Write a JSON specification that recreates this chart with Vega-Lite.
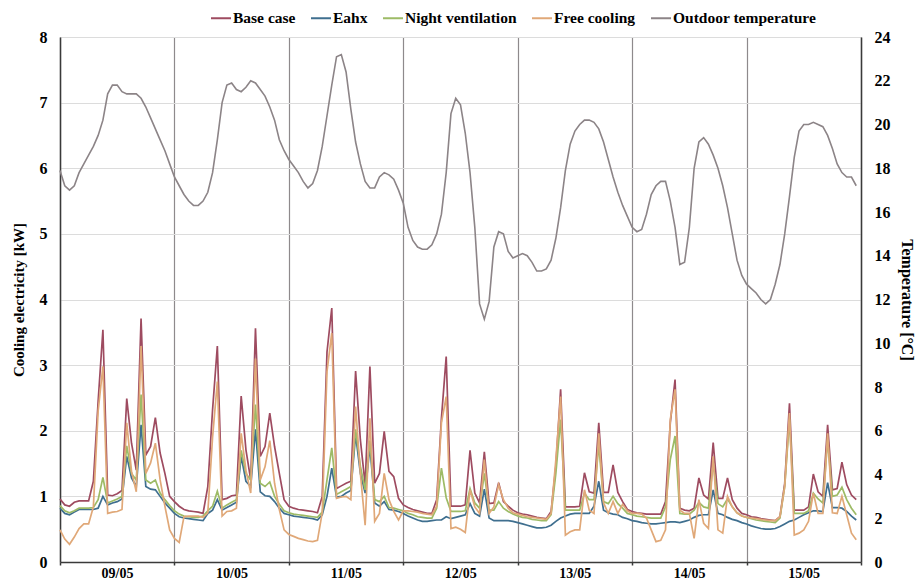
{
  "$schema": "https://vega.github.io/schema/vega-lite/v6.json",
  "width": 801,
  "height": 525,
  "autosize": {"type": "none"},
  "padding": {"left": 60, "top": 37, "right": 56, "bottom": 21},
  "data": {"values": [
    {"h":0,"b":0.96,"e":0.82,"n":0.86,"f":0.49,"t":17.9},
    {"h":1,"b":0.87,"e":0.74,"n":0.78,"f":0.35,"t":17.2},
    {"h":2,"b":0.85,"e":0.72,"n":0.75,"f":0.27,"t":17.0},
    {"h":3,"b":0.91,"e":0.76,"n":0.78,"f":0.38,"t":17.2},
    {"h":4,"b":0.93,"e":0.80,"n":0.82,"f":0.51,"t":17.8},
    {"h":5,"b":0.93,"e":0.80,"n":0.82,"f":0.58,"t":18.2},
    {"h":6,"b":0.93,"e":0.80,"n":0.82,"f":0.58,"t":18.6},
    {"h":7,"b":1.23,"e":0.80,"n":0.83,"f":0.84,"t":19.0},
    {"h":8,"b":2.45,"e":0.82,"n":0.95,"f":2.30,"t":19.5},
    {"h":9,"b":3.54,"e":1.00,"n":1.29,"f":2.98,"t":20.2},
    {"h":10,"b":1.02,"e":0.87,"n":0.90,"f":0.74,"t":21.4},
    {"h":11,"b":1.01,"e":0.90,"n":0.93,"f":0.76,"t":21.8},
    {"h":12,"b":1.04,"e":0.92,"n":0.96,"f":0.77,"t":21.8},
    {"h":13,"b":1.09,"e":0.96,"n":1.00,"f":0.80,"t":21.5},
    {"h":14,"b":2.49,"e":1.61,"n":1.77,"f":2.12,"t":21.4},
    {"h":15,"b":1.81,"e":1.28,"n":1.35,"f":1.38,"t":21.4},
    {"h":16,"b":1.40,"e":1.15,"n":1.25,"f":1.07,"t":21.4},
    {"h":17,"b":3.71,"e":2.09,"n":2.55,"f":3.29,"t":21.2},
    {"h":18,"b":1.63,"e":1.15,"n":1.25,"f":1.35,"t":20.8},
    {"h":19,"b":1.76,"e":1.11,"n":1.20,"f":1.51,"t":20.3},
    {"h":20,"b":2.20,"e":1.10,"n":1.25,"f":1.81,"t":19.8},
    {"h":21,"b":1.66,"e":1.00,"n":1.05,"f":1.25,"t":19.3},
    {"h":22,"b":1.35,"e":0.90,"n":0.95,"f":0.85,"t":18.8},
    {"h":23,"b":1.00,"e":0.82,"n":0.86,"f":0.49,"t":18.2},
    {"h":24,"b":0.92,"e":0.74,"n":0.78,"f":0.36,"t":17.6},
    {"h":25,"b":0.85,"e":0.69,"n":0.73,"f":0.30,"t":17.2},
    {"h":26,"b":0.80,"e":0.67,"n":0.70,"f":0.69,"t":16.8},
    {"h":27,"b":0.78,"e":0.66,"n":0.69,"f":0.70,"t":16.5},
    {"h":28,"b":0.77,"e":0.65,"n":0.68,"f":0.70,"t":16.3},
    {"h":29,"b":0.76,"e":0.64,"n":0.68,"f":0.70,"t":16.3},
    {"h":30,"b":0.74,"e":0.63,"n":0.70,"f":0.68,"t":16.5},
    {"h":31,"b":1.15,"e":0.74,"n":0.78,"f":0.75,"t":16.9},
    {"h":32,"b":2.32,"e":0.79,"n":0.85,"f":1.90,"t":17.8},
    {"h":33,"b":3.29,"e":0.95,"n":1.08,"f":2.75,"t":19.3},
    {"h":34,"b":0.95,"e":0.79,"n":0.82,"f":0.70,"t":21.0},
    {"h":35,"b":0.97,"e":0.83,"n":0.87,"f":0.77,"t":21.8},
    {"h":36,"b":1.01,"e":0.87,"n":0.91,"f":0.78,"t":21.9},
    {"h":37,"b":1.02,"e":0.91,"n":0.95,"f":0.82,"t":21.6},
    {"h":38,"b":2.53,"e":1.61,"n":1.70,"f":1.96,"t":21.5},
    {"h":39,"b":1.71,"e":1.23,"n":1.35,"f":1.40,"t":21.7},
    {"h":40,"b":1.25,"e":1.15,"n":1.25,"f":1.05,"t":22.0},
    {"h":41,"b":3.56,"e":2.02,"n":2.40,"f":3.10,"t":21.9},
    {"h":42,"b":1.61,"e":1.07,"n":1.20,"f":1.25,"t":21.6},
    {"h":43,"b":1.76,"e":1.01,"n":1.15,"f":1.45,"t":21.3},
    {"h":44,"b":2.27,"e":1.00,"n":1.22,"f":1.85,"t":20.8},
    {"h":45,"b":1.76,"e":0.92,"n":1.00,"f":1.20,"t":20.2},
    {"h":46,"b":1.35,"e":0.82,"n":0.88,"f":0.80,"t":19.3},
    {"h":47,"b":0.95,"e":0.74,"n":0.78,"f":0.49,"t":18.8},
    {"h":48,"b":0.85,"e":0.72,"n":0.75,"f":0.42,"t":18.4},
    {"h":49,"b":0.82,"e":0.70,"n":0.73,"f":0.39,"t":18.1},
    {"h":50,"b":0.80,"e":0.69,"n":0.72,"f":0.36,"t":17.8},
    {"h":51,"b":0.79,"e":0.68,"n":0.71,"f":0.34,"t":17.4},
    {"h":52,"b":0.78,"e":0.67,"n":0.70,"f":0.32,"t":17.1},
    {"h":53,"b":0.77,"e":0.66,"n":0.69,"f":0.31,"t":17.3},
    {"h":54,"b":0.75,"e":0.64,"n":0.68,"f":0.33,"t":17.9},
    {"h":55,"b":1.00,"e":0.72,"n":0.76,"f":0.75,"t":19.0},
    {"h":56,"b":3.20,"e":1.00,"n":1.25,"f":2.90,"t":20.4},
    {"h":57,"b":3.87,"e":1.43,"n":1.74,"f":3.49,"t":21.8},
    {"h":58,"b":1.12,"e":0.99,"n":1.03,"f":0.97,"t":23.1},
    {"h":59,"b":1.16,"e":1.00,"n":1.07,"f":0.99,"t":23.2},
    {"h":60,"b":1.20,"e":1.05,"n":1.11,"f":1.00,"t":22.4},
    {"h":61,"b":1.23,"e":1.09,"n":1.15,"f":0.95,"t":20.7},
    {"h":62,"b":2.91,"e":1.94,"n":2.02,"f":2.37,"t":19.2},
    {"h":63,"b":1.86,"e":1.35,"n":1.46,"f":1.35,"t":18.2},
    {"h":64,"b":1.18,"e":1.05,"n":1.10,"f":0.56,"t":17.4},
    {"h":65,"b":2.98,"e":1.76,"n":1.85,"f":2.19,"t":17.1},
    {"h":66,"b":1.20,"e":0.90,"n":0.95,"f":0.62,"t":17.1},
    {"h":67,"b":1.35,"e":0.85,"n":0.92,"f":0.74,"t":17.6},
    {"h":68,"b":1.99,"e":0.92,"n":1.00,"f":1.35,"t":17.8},
    {"h":69,"b":1.38,"e":0.80,"n":0.83,"f":0.95,"t":17.7},
    {"h":70,"b":1.30,"e":0.79,"n":0.82,"f":0.77,"t":17.5},
    {"h":71,"b":0.97,"e":0.77,"n":0.80,"f":0.64,"t":17.0},
    {"h":72,"b":0.87,"e":0.74,"n":0.78,"f":0.78,"t":16.4},
    {"h":73,"b":0.83,"e":0.70,"n":0.74,"f":0.78,"t":15.3},
    {"h":74,"b":0.80,"e":0.67,"n":0.72,"f":0.77,"t":14.7},
    {"h":75,"b":0.78,"e":0.64,"n":0.69,"f":0.76,"t":14.4},
    {"h":76,"b":0.76,"e":0.62,"n":0.68,"f":0.74,"t":14.3},
    {"h":77,"b":0.74,"e":0.62,"n":0.67,"f":0.73,"t":14.3},
    {"h":78,"b":0.74,"e":0.63,"n":0.67,"f":0.72,"t":14.5},
    {"h":79,"b":0.95,"e":0.64,"n":0.82,"f":0.85,"t":15.0},
    {"h":80,"b":2.19,"e":0.64,"n":1.43,"f":2.12,"t":15.9},
    {"h":81,"b":3.13,"e":0.69,"n":0.98,"f":2.52,"t":17.8},
    {"h":82,"b":0.85,"e":0.66,"n":0.77,"f":0.51,"t":20.5},
    {"h":83,"b":0.85,"e":0.68,"n":0.77,"f":0.53,"t":21.2},
    {"h":84,"b":0.85,"e":0.70,"n":0.77,"f":0.50,"t":20.9},
    {"h":85,"b":0.87,"e":0.72,"n":0.78,"f":0.45,"t":19.6},
    {"h":86,"b":1.70,"e":0.89,"n":1.12,"f":1.10,"t":17.8},
    {"h":87,"b":1.05,"e":0.74,"n":0.90,"f":0.84,"t":15.3},
    {"h":88,"b":0.90,"e":0.70,"n":0.82,"f":0.74,"t":11.8},
    {"h":89,"b":1.68,"e":1.11,"n":1.35,"f":1.56,"t":11.1},
    {"h":90,"b":0.89,"e":0.67,"n":0.79,"f":0.74,"t":11.9},
    {"h":91,"b":0.90,"e":0.63,"n":0.79,"f":0.84,"t":14.4},
    {"h":92,"b":1.21,"e":0.63,"n":0.92,"f":1.18,"t":15.1},
    {"h":93,"b":0.92,"e":0.63,"n":0.82,"f":0.95,"t":15.0},
    {"h":94,"b":0.85,"e":0.63,"n":0.77,"f":0.82,"t":14.2},
    {"h":95,"b":0.79,"e":0.62,"n":0.73,"f":0.75,"t":13.9},
    {"h":96,"b":0.75,"e":0.60,"n":0.70,"f":0.73,"t":14.0},
    {"h":97,"b":0.73,"e":0.58,"n":0.68,"f":0.71,"t":14.1},
    {"h":98,"b":0.72,"e":0.56,"n":0.67,"f":0.69,"t":14.0},
    {"h":99,"b":0.70,"e":0.54,"n":0.65,"f":0.68,"t":13.7},
    {"h":100,"b":0.68,"e":0.52,"n":0.64,"f":0.67,"t":13.3},
    {"h":101,"b":0.67,"e":0.52,"n":0.63,"f":0.66,"t":13.3},
    {"h":102,"b":0.66,"e":0.53,"n":0.63,"f":0.65,"t":13.4},
    {"h":103,"b":0.77,"e":0.56,"n":0.72,"f":0.74,"t":13.8},
    {"h":104,"b":1.46,"e":0.62,"n":1.35,"f":1.56,"t":14.8},
    {"h":105,"b":2.63,"e":0.67,"n":2.17,"f":2.52,"t":16.2},
    {"h":106,"b":0.84,"e":0.70,"n":0.79,"f":0.41,"t":17.9},
    {"h":107,"b":0.84,"e":0.73,"n":0.79,"f":0.46,"t":19.1},
    {"h":108,"b":0.84,"e":0.74,"n":0.79,"f":0.49,"t":19.7},
    {"h":109,"b":0.85,"e":0.74,"n":0.79,"f":0.49,"t":20.0},
    {"h":110,"b":1.36,"e":0.74,"n":1.05,"f":1.10,"t":20.2},
    {"h":111,"b":1.07,"e":0.74,"n":0.95,"f":0.79,"t":20.2},
    {"h":112,"b":1.05,"e":0.85,"n":0.95,"f":0.74,"t":20.1},
    {"h":113,"b":2.12,"e":1.23,"n":1.79,"f":1.96,"t":19.8},
    {"h":114,"b":1.06,"e":0.79,"n":0.92,"f":0.90,"t":19.2},
    {"h":115,"b":1.06,"e":0.75,"n":0.89,"f":0.74,"t":18.4},
    {"h":116,"b":1.48,"e":0.73,"n":1.00,"f":0.92,"t":17.6},
    {"h":117,"b":1.06,"e":0.72,"n":0.89,"f":0.74,"t":16.9},
    {"h":118,"b":0.92,"e":0.68,"n":0.82,"f":0.88,"t":16.3},
    {"h":119,"b":0.80,"e":0.66,"n":0.74,"f":0.78,"t":15.8},
    {"h":120,"b":0.77,"e":0.63,"n":0.72,"f":0.74,"t":15.3},
    {"h":121,"b":0.75,"e":0.62,"n":0.70,"f":0.74,"t":15.1},
    {"h":122,"b":0.74,"e":0.60,"n":0.69,"f":0.73,"t":15.2},
    {"h":123,"b":0.73,"e":0.59,"n":0.68,"f":0.67,"t":15.9},
    {"h":124,"b":0.73,"e":0.58,"n":0.67,"f":0.49,"t":16.8},
    {"h":125,"b":0.73,"e":0.58,"n":0.67,"f":0.31,"t":17.2},
    {"h":126,"b":0.73,"e":0.59,"n":0.67,"f":0.33,"t":17.4},
    {"h":127,"b":0.92,"e":0.60,"n":0.84,"f":0.49,"t":17.4},
    {"h":128,"b":2.12,"e":0.61,"n":1.56,"f":2.17,"t":16.5},
    {"h":129,"b":2.78,"e":0.61,"n":1.92,"f":2.63,"t":15.3},
    {"h":130,"b":0.82,"e":0.60,"n":0.74,"f":0.79,"t":13.6},
    {"h":131,"b":0.79,"e":0.62,"n":0.73,"f":0.74,"t":13.7},
    {"h":132,"b":0.78,"e":0.64,"n":0.73,"f":0.74,"t":15.3},
    {"h":133,"b":0.82,"e":0.68,"n":0.79,"f":0.36,"t":18.0},
    {"h":134,"b":1.28,"e":0.71,"n":0.91,"f":0.95,"t":19.2},
    {"h":135,"b":1.02,"e":0.72,"n":0.84,"f":0.59,"t":19.4},
    {"h":136,"b":0.96,"e":0.72,"n":0.82,"f":0.51,"t":19.1},
    {"h":137,"b":1.82,"e":1.10,"n":1.51,"f":1.61,"t":18.6},
    {"h":138,"b":0.97,"e":0.74,"n":0.89,"f":0.49,"t":18.0},
    {"h":139,"b":0.97,"e":0.72,"n":0.84,"f":0.44,"t":17.2},
    {"h":140,"b":1.28,"e":0.68,"n":0.96,"f":1.00,"t":16.2},
    {"h":141,"b":0.95,"e":0.65,"n":0.84,"f":0.84,"t":15.0},
    {"h":142,"b":0.82,"e":0.63,"n":0.75,"f":0.75,"t":13.8},
    {"h":143,"b":0.74,"e":0.60,"n":0.70,"f":0.70,"t":13.1},
    {"h":144,"b":0.72,"e":0.58,"n":0.68,"f":0.68,"t":12.7},
    {"h":145,"b":0.69,"e":0.55,"n":0.66,"f":0.67,"t":12.5},
    {"h":146,"b":0.68,"e":0.53,"n":0.64,"f":0.66,"t":12.3},
    {"h":147,"b":0.66,"e":0.51,"n":0.63,"f":0.65,"t":12.0},
    {"h":148,"b":0.65,"e":0.50,"n":0.62,"f":0.64,"t":11.8},
    {"h":149,"b":0.64,"e":0.50,"n":0.61,"f":0.63,"t":12.0},
    {"h":150,"b":0.63,"e":0.51,"n":0.60,"f":0.63,"t":12.7},
    {"h":151,"b":0.69,"e":0.54,"n":0.67,"f":0.69,"t":13.6},
    {"h":152,"b":1.20,"e":0.58,"n":1.15,"f":1.15,"t":15.0},
    {"h":153,"b":2.42,"e":0.62,"n":2.17,"f":2.27,"t":16.7},
    {"h":154,"b":0.79,"e":0.64,"n":0.74,"f":0.41,"t":18.5},
    {"h":155,"b":0.79,"e":0.68,"n":0.74,"f":0.44,"t":19.7},
    {"h":156,"b":0.79,"e":0.72,"n":0.74,"f":0.49,"t":20.0},
    {"h":157,"b":0.84,"e":0.75,"n":0.78,"f":0.62,"t":20.0},
    {"h":158,"b":1.34,"e":0.78,"n":1.05,"f":1.05,"t":20.1},
    {"h":159,"b":1.07,"e":0.78,"n":0.96,"f":0.74,"t":20.0},
    {"h":160,"b":1.00,"e":0.77,"n":0.90,"f":0.74,"t":19.9},
    {"h":161,"b":2.09,"e":1.21,"n":1.86,"f":1.96,"t":19.5},
    {"h":162,"b":1.10,"e":0.83,"n":1.00,"f":0.75,"t":18.9},
    {"h":163,"b":1.12,"e":0.83,"n":1.02,"f":0.74,"t":18.2},
    {"h":164,"b":1.52,"e":0.82,"n":1.14,"f":1.00,"t":17.8},
    {"h":165,"b":1.18,"e":0.77,"n":0.95,"f":0.72,"t":17.6},
    {"h":166,"b":1.02,"e":0.70,"n":0.82,"f":0.44,"t":17.6},
    {"h":167,"b":0.95,"e":0.64,"n":0.72,"f":0.34,"t":17.2}
  ]},
  "layer": [
    {
      "transform": [{"fold": ["b", "e", "n", "f"], "as": ["series", "kw"]}],
      "mark": {"type": "line", "strokeWidth": 1.7},
      "encoding": {
        "x": {
          "field": "h", "type": "quantitative",
          "scale": {"domain": [0, 168], "nice": false, "zero": false},
          "axis": {
            "title": null,
            "values": [0, 24, 48, 72, 96, 120, 144, 168],
            "labelExpr": "datum.value == 0 ? '09/05' : datum.value == 24 ? '10/05' : datum.value == 48 ? '11/05' : datum.value == 72 ? '12/05' : datum.value == 96 ? '13/05' : datum.value == 120 ? '14/05' : datum.value == 144 ? '15/05' : ''",
            "labelOffset": 57,
            "labelOverlap": false,
            "labelBound": false,
            "labelFlush": false,
            "labelPadding": 1,
            "labelFontSize": 14,
            "labelFontWeight": "bold",
            "grid": true,
            "gridColor": "#8e8a8c",
            "gridWidth": 1.2,
            "domainColor": "#3a3a3a",
            "domainWidth": 1.5,
            "tickColor": "#3a3a3a",
            "tickSize": 3,
            "tickWidth": 1.5
          }
        },
        "y": {
          "field": "kw", "type": "quantitative",
          "scale": {"domain": [0, 8], "nice": false},
          "axis": {
            "orient": "left",
            "title": "Cooling electricity [kW]",
            "values": [0, 1, 2, 3, 4, 5, 6, 7, 8],
            "grid": true,
            "gridColor": "#dcdcdc",
            "gridWidth": 1.2,
            "ticks": false,
            "domainColor": "#3a3a3a",
            "domainWidth": 1.5,
            "labelPadding": 13,
            "labelFontSize": 16,
            "labelFontWeight": "bold",
            "titleFontSize": 15,
            "titleFontWeight": "bold",
            "titlePadding": 13
          }
        },
        "color": {
          "field": "series", "type": "nominal",
          "scale": {"domain": ["b", "e", "n", "f", "t"], "range": ["#9e4b60", "#3f6f8f", "#9dbb66", "#e0a878", "#8c8487"]},
          "legend": {
            "labelExpr": "datum.label == 'b' ? 'Base case' : datum.label == 'e' ? 'Eahx' : datum.label == 'n' ? 'Night ventilation' : datum.label == 'f' ? 'Free cooling' : 'Outdoor temperature'"
          }
        },
        "detail": {"field": "series"}
      }
    },
    {
      "transform": [{"fold": ["t"], "as": ["series", "temp"]}],
      "mark": {"type": "line", "strokeWidth": 1.6},
      "encoding": {
        "x": {"field": "h", "type": "quantitative"},
        "y": {
          "field": "temp", "type": "quantitative",
          "scale": {"domain": [0, 24], "nice": false},
          "axis": {
            "orient": "right",
            "title": "Temperature [°C]",
            "values": [0, 2, 4, 6, 8, 10, 12, 14, 16, 18, 20, 22, 24],
            "grid": false,
            "ticks": false,
            "domainColor": "#3a3a3a",
            "domainWidth": 1.5,
            "labelPadding": 13,
            "labelFontSize": 16,
            "labelFontWeight": "bold",
            "titleFontSize": 16,
            "titleFontWeight": "bold",
            "titlePadding": 8
          }
        },
        "color": {"field": "series", "type": "nominal"}
      }
    }
  ],
  "resolve": {"scale": {"y": "independent"}},
  "config": {
    "view": {"stroke": null},
    "font": "Liberation Serif",
    "axis": {"labelColor": "#000000", "titleColor": "#000000", "labelFont": "Liberation Serif", "titleFont": "Liberation Serif"},
    "legend": {
      "orient": "none",
      "legendX": 150,
      "legendY": -30,
      "direction": "horizontal",
      "title": null,
      "symbolType": "stroke",
      "symbolSize": 400,
      "symbolStrokeWidth": 2,
      "labelFont": "Liberation Serif",
      "labelFontSize": 15.5,
      "labelFontWeight": "bold",
      "labelColor": "#000000",
      "labelOffset": 1,
      "columnPadding": 11
    }
  }
}
